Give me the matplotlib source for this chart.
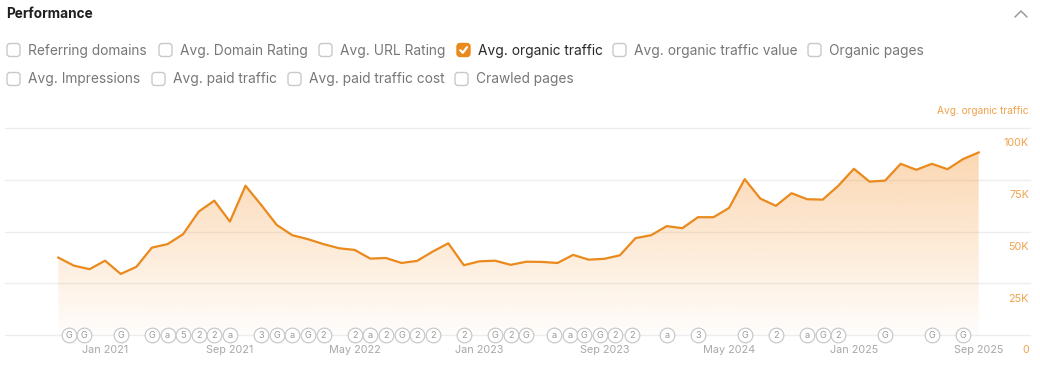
import numpy as np
import matplotlib.pyplot as plt
from matplotlib.patches import FancyBboxPatch
from matplotlib.colors import to_rgb

plt.rcParams['font.family'] = ['Inter', 'DejaVu Sans']

W, H = 1040, 365

# monthly avg. organic traffic, Oct 2020 .. Sep 2025
traffic = [
    37400, 33500, 31800, 35900, 29500, 32900, 42200, 43900, 48700, 59600,
    64900, 54800, 72100, 62900, 53200, 48200, 46300, 43900, 41900, 41100,
    36900, 37200, 34800, 35800, 40300, 44300, 33700, 35600, 35900, 33900,
    35400, 35300, 34800, 38700, 36400, 36800, 38500, 46800, 48200, 52600,
    51600, 56900, 56900, 61400, 75300, 65900, 62400, 68500, 65600, 65400,
    72100, 80300, 74100, 74600, 82700, 79800, 82700, 80100, 85000, 88200,
]

# x ticks (month index from Oct 2020)
tick_pos = [3, 11, 19, 27, 35, 43, 51, 59]
tick_labels = ["Jan 2021", "Sep 2021", "May 2022", "Jan 2023",
               "Sep 2023", "May 2024", "Jan 2025", "Sep 2025"]

y_ticks = [0, 25000, 50000, 75000, 100000]
y_labels = ["0", "25K", "50K", "75K", "100K"]

# annotation markers along the baseline
event_pos = [0.7, 1.65, 4, 6, 7, 8, 9, 10, 11, 13, 14, 15, 16, 17, 19, 20, 21,
             22, 23, 24, 26, 28, 29, 30, 31.8, 32.8, 33.7, 34.7, 35.7, 36.8,
             39, 41, 44, 46, 48, 49, 50, 53, 56, 58]
event_labels = ["G", "G", "G", "G", "a", "5", "2", "2", "a", "3", "G", "a", "G",
                "2", "2", "a", "2", "G", "2", "2", "2", "G", "2", "G", "a", "a",
                "G", "G", "2", "2", "a", "3", "G", "2", "a", "G", "2", "G", "G",
                "G"]

row1 = ["Referring domains", "Avg. Domain Rating", "Avg. URL Rating",
        "Avg. organic traffic", "Avg. organic traffic value", "Organic pages"]
row2 = ["Avg. Impressions", "Avg. paid traffic", "Avg. paid traffic cost",
        "Crawled pages"]
checked = "Avg. organic traffic"

ORANGE = "#ea8a1c"
ORANGE_TXT = "#f0a34c"
GRID = "#ededed"

fig = plt.figure(figsize=(W / 100, H / 100), dpi=100)
fig.patch.set_facecolor("white")

# overlay in pixel coords for the header UI
ui = fig.add_axes([0, 0, 1, 1])
ui.set_xlim(0, W)
ui.set_ylim(H, 0)
ui.axis("off")

ui.text(6, 14, "Performance", fontsize=9.8, fontweight="bold", color="#1f1f1f",
        va="center", ha="left")
ui.plot([1015, 1021, 1027], [17, 11, 17], color="#9a9a9a", lw=1.1,
        solid_capstyle="round")

box_x1 = [7, 159, 319, 457, 613, 808]
box_x2 = [7, 152, 288, 455]


def checkbox(x, y, label):
    on = label == checked
    ui.add_patch(FancyBboxPatch((x, y - 6.5), 13, 13,
                                boxstyle="round,pad=0,rounding_size=3",
                                fc=ORANGE if on else "white",
                                ec=ORANGE if on else "#c9c9c9", lw=1))
    if on:
        ui.plot([x + 3.3, x + 5.8, x + 10], [y + 0.2, y + 2.8, y - 2.8],
                color="white", lw=1.6, solid_capstyle="round")
    ui.text(x + 21, y + 0.5, label, fontsize=9.9, va="center", ha="left",
            color="#2a2a2a" if on else "#777777")


for x, lab in zip(box_x1, row1):
    checkbox(x, 50, lab)
for x, lab in zip(box_x2, row2):
    checkbox(x, 79, lab)

# main chart
left_px, right_px, top_px, base_px = 5, 1030, 128, 335
ax = fig.add_axes([left_px / W, (H - base_px) / H,
                   (right_px - left_px) / W, (base_px - top_px) / H])
x0_px, step = 58.3, 15.6
xlim = ((left_px - x0_px) / step, (right_px - x0_px) / step)

x = np.arange(len(traffic))
y = np.array(traffic)

for v in y_ticks:
    ax.axhline(v, color=GRID, lw=1, zorder=0, clip_on=False)

# gradient area under the line
poly = ax.fill_between(x, 0, y, color="none", lw=0)
r, g, b = to_rgb("#f7a24b")
grad = np.zeros((256, 1, 4))
grad[..., 0], grad[..., 1], grad[..., 2] = r, g, b
grad[:, 0, 3] = np.linspace(0.48, 0.02, 256)
im = ax.imshow(grad, extent=[x[0], x[-1], 0, 100000], aspect="auto",
               origin="upper", zorder=1)
im.set_clip_path(poly.get_paths()[0], transform=ax.transData)

ax.plot(x, y, color=ORANGE, lw=1.6, zorder=3)
ax.set_xlim(*xlim)
ax.set_ylim(0, 100000)
ax.axis("off")

for v, lab in zip(y_ticks, y_labels):
    ax.annotate(lab, xy=(1, v), xycoords=("axes fraction", "data"),
                xytext=(-0.8, -11), textcoords="offset points",
                ha="right", va="center", fontsize=7.8, color=ORANGE_TXT)

ax.annotate("Avg. organic traffic", xy=(1, 1), xycoords="axes fraction",
            xytext=(-0.8, 12), textcoords="offset points",
            ha="right", va="center", fontsize=7.3, color=ORANGE_TXT)

for p, lab in zip(tick_pos, tick_labels):
    ax.annotate(lab, xy=(p, 0), xycoords="data", xytext=(0, -11),
                textcoords="offset points", ha="center", va="center",
                fontsize=7.8, color="#a8a8a8")

ax.scatter(event_pos, [0] * len(event_pos), s=112, facecolor="white",
           edgecolor="#c4c4c4", lw=0.8, zorder=5, clip_on=False)
for p, lab in zip(event_pos, event_labels):
    ax.text(p, 0, lab, ha="center", va="center", fontsize=6.6,
            color="#9a9a9a", zorder=6, clip_on=False)

fig.savefig("out.png", dpi=100, facecolor="white")
